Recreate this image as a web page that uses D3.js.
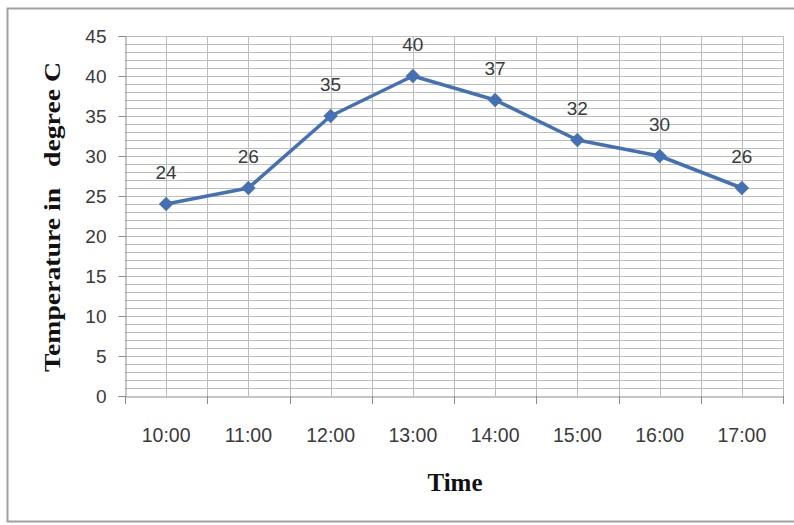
<!DOCTYPE html>
<html>
<head>
<meta charset="utf-8">
<script src="https://cdn.jsdelivr.net/npm/d3@7"></script>
<style>
  html, body { margin: 0; padding: 0; background: #fff; }
</style>
</head>
<body>
<div id="chart"></div>
<script>
// Temperature vs time - line chart

const times = ["10:00", "11:00", "12:00", "13:00", "14:00", "15:00", "16:00", "17:00"];
const temps = [24, 26, 35, 40, 37, 32, 30, 26];
const yTicks = [0, 5, 10, 15, 20, 25, 30, 35, 40, 45];

const width = 794, height = 525;
const plot = { left: 125, right: 783, top: 36, bottom: 396 };

const svg = d3.select("#chart")
  .append("svg")
  .attr("width", width)
  .attr("height", height);

// khung ngoài
svg.append("rect")
  .attr("x", 7.5).attr("y", 8.5)
  .attr("width", 820).attr("height", 513)
  .attr("fill", "none")
  .attr("stroke", "#a0a0a0")
  .attr("stroke-width", 2);

const x = d3.scaleBand()
  .domain(times)
  .range([plot.left, plot.right])
  .padding(0);

const y = d3.scaleLinear()
  .domain([0, 45])
  .range([plot.bottom, plot.top]);

const cx = d => x(d) + x.bandwidth() / 2;

// lưới ngang (mỗi 1 độ)
svg.append("g")
  .selectAll("line")
  .data(d3.range(1, 46))
  .join("line")
  .attr("x1", plot.left).attr("x2", plot.right)
  .attr("y1", d => Math.round(y(d)) + 0.5)
  .attr("y2", d => Math.round(y(d)) + 0.5)
  .attr("stroke", "#bdbdbd")
  .attr("stroke-width", 1);

// lưới dọc (biên và giữa mỗi nhóm)
const vLines = [];
times.forEach(t => { vLines.push(x(t)); vLines.push(cx(t)); });
vLines.push(plot.right);
svg.append("g")
  .selectAll("line")
  .data(vLines.slice(1))
  .join("line")
  .attr("x1", d => Math.round(d) + 0.5).attr("x2", d => Math.round(d) + 0.5)
  .attr("y1", plot.top).attr("y2", plot.bottom)
  .attr("stroke", "#bdbdbd")
  .attr("stroke-width", 1);

// trục Y
const yAxis = svg.append("g")
  .attr("transform", `translate(${plot.left + 0.5},0)`)
  .call(d3.axisLeft(y).tickValues(yTicks).tickSize(7).tickPadding(12));
yAxis.select(".domain").attr("stroke", "#8c8c8c");
yAxis.selectAll(".tick line").attr("stroke", "#8c8c8c");
yAxis.selectAll("text")
  .attr("font-family", "'Liberation Sans', Arial, sans-serif")
  .attr("font-size", "19px")
  .attr("fill", "#3a3a3a");

// trục X
const xAxis = svg.append("g")
  .attr("transform", `translate(0,${plot.bottom + 0.5})`)
  .call(d3.axisBottom(x).tickSize(0).tickPadding(32));
xAxis.select(".domain").attr("stroke", "#8c8c8c");
xAxis.selectAll("text")
  .attr("font-family", "'Liberation Sans', Arial, sans-serif")
  .attr("font-size", "19.5px")
  .attr("fill", "#3a3a3a");

// vạch chia X tại biên nhóm
svg.append("g")
  .selectAll("line")
  .data(times.map(t => x(t)).concat([plot.right]))
  .join("line")
  .attr("x1", d => Math.round(d) + 0.5).attr("x2", d => Math.round(d) + 0.5)
  .attr("y1", plot.bottom).attr("y2", plot.bottom + 8)
  .attr("stroke", "#8c8c8c");

// đường
const data = times.map((t, i) => ({ t, v: temps[i] }));
const line = d3.line()
  .x(d => cx(d.t))
  .y(d => y(d.v));

svg.append("path")
  .datum(data)
  .attr("fill", "none")
  .attr("stroke", "#4470b4")
  .attr("stroke-width", 3.5)
  .attr("stroke-linejoin", "round")
  .attr("d", line);

// điểm hình thoi
svg.append("g")
  .selectAll("path")
  .data(data)
  .join("path")
  .attr("transform", d => `translate(${cx(d.t)},${y(d.v)})`)
  .attr("d", d3.symbol(d3.symbolDiamond2, 135))
  .attr("fill", "#4470b4");

// nhãn giá trị
svg.append("g")
  .selectAll("text")
  .data(data)
  .join("text")
  .attr("x", d => cx(d.t))
  .attr("y", d => y(d.v) - 25)
  .attr("text-anchor", "middle")
  .attr("font-family", "'Liberation Sans', Arial, sans-serif")
  .attr("font-size", "19px")
  .attr("fill", "#3a3a3a")
  .text(d => d.v);

// tiêu đề trục
svg.append("text")
  .attr("x", 455)
  .attr("y", 491)
  .attr("text-anchor", "middle")
  .attr("font-family", "'Liberation Serif', 'Times New Roman', serif")
  .attr("font-weight", "bold")
  .attr("font-size", "25px")
  .attr("fill", "#111")
  .text("Time");

svg.append("text")
  .attr("transform", "translate(60,217) rotate(-90)")
  .attr("text-anchor", "middle")
  .attr("font-family", "'Liberation Serif', 'Times New Roman', serif")
  .attr("font-weight", "bold")
  .attr("font-size", "24px")
  .attr("fill", "#111")
  .attr("textLength", 310)
  .attr("lengthAdjust", "spacingAndGlyphs")
  .style("white-space", "pre")
  .text("Temperature in   degree C");
</script>
</body>
</html>
